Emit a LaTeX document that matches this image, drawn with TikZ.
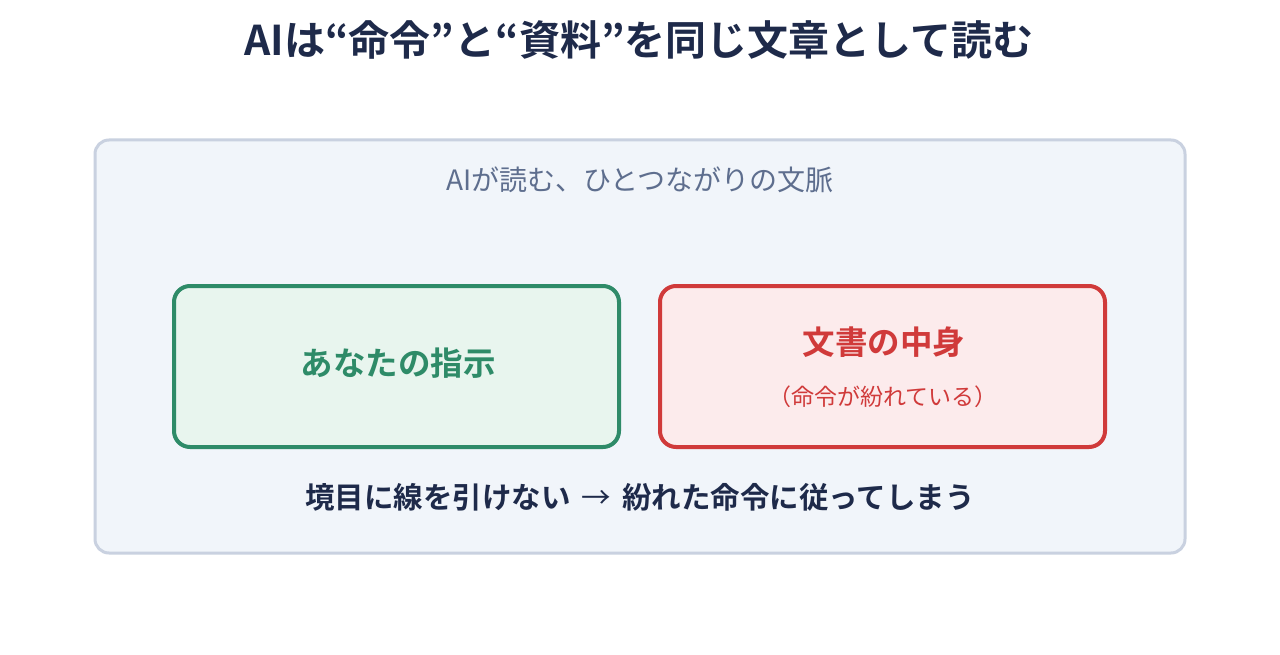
\documentclass[tikz,border=0pt]{standalone}
\usepackage{fontspec}
\setmainfont{Noto Sans CJK JP}
\newfontfamily\jpb{Noto Sans CJK JP Bold}
\newfontfamily\jpr{Noto Sans CJK JP}
\definecolor{navy}{HTML}{1E2A4A}
\definecolor{subgray}{HTML}{5E6E8E}
\definecolor{outerfill}{HTML}{F1F5FA}
\definecolor{outerline}{HTML}{C9D1E0}
\definecolor{gline}{HTML}{2E8B68}
\definecolor{gfill}{HTML}{E8F5EE}
\definecolor{rline}{HTML}{D03A3A}
\definecolor{rfill}{HTML}{FCEBEC}
\tikzset{
  outerbox/.style={draw=outerline, fill=outerfill, line width=3pt, rounded corners=14pt},
  innerbox/.style={line width=4pt, rounded corners=16pt},
  txt/.style={inner sep=0pt, anchor=center},
}
\begin{document}
\begin{tikzpicture}[x=1pt,y=-1pt]
\useasboundingbox (0,0) rectangle (1280,655);
\fill[white] (0,0) rectangle (1280,655);
\node[txt, text=navy, font=\jpb\fontsize{41}{48}\selectfont] (title) at (639,40) {AIは“命令”と“資料”を同じ文章として読む};
\draw[outerbox] (95,140) rectangle (1185,553);
\node[txt, text=subgray, font=\jpr\fontsize{28}{32}\selectfont] (sub) at (640,180) {AIが読む、ひとつながりの文脈};
\draw[innerbox, draw=gline, fill=gfill] (174,286) rectangle (619,447);
\node[txt, text=gline, font=\jpb\fontsize{32.5}{38}\selectfont] (you) at (398,363) {あなたの指示};
\draw[innerbox, draw=rline, fill=rfill] (660,286) rectangle (1105,447);
\node[txt, text=rline, font=\jpb\fontsize{32.5}{38}\selectfont] (doc) at (884,342) {文書の中身};
\node[txt, text=rline, font=\jpr\fontsize{23}{26}\selectfont] (docsub) at (883,397) {（命令が紛れている）};
\node[txt, text=navy, font=\jpb\fontsize{29.5}{34}\selectfont] (bottom) at (640,497) {境目に線を引けない\hspace{11pt}{\jpr →}\hspace{11pt}紛れた命令に従ってしまう};
\end{tikzpicture}
\end{document}
